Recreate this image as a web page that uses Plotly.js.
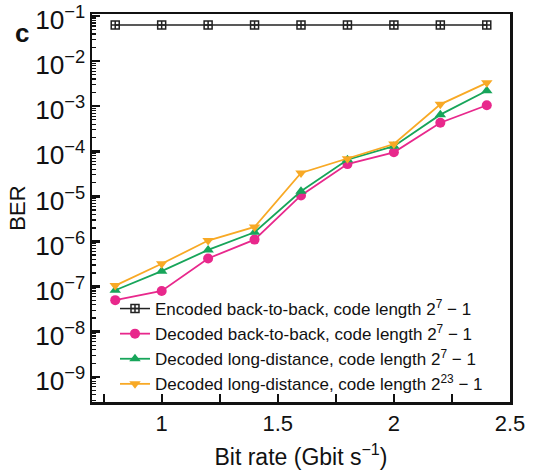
<!DOCTYPE html>
<html>
<head>
<meta charset="utf-8">
<script src="https://cdn.plot.ly/plotly-3.0.1.min.js"></script>
<style>html,body{margin:0;padding:0;background:#fff;}#chart{width:537px;height:475px;}</style>
</head>
<body>
<div id="chart"></div>
<script>
const bitRate = [0.8, 1.0, 1.2, 1.4, 1.6, 1.8, 2.0, 2.2, 2.4];
const encodedB2B = [0.063, 0.063, 0.063, 0.063, 0.063, 0.063, 0.063, 0.063, 0.063];
const decodedB2B = [5e-8, 8e-8, 4.2e-7, 1.1e-6, 1.05e-5, 5.2e-5, 9.5e-5, 4.3e-4, 1.05e-3];
const decodedLong7 = [8.3e-8, 2.2e-7, 6.5e-7, 1.6e-6, 1.3e-5, 6.5e-5, 1.3e-4, 6.5e-4, 2.2e-3];
const decodedLong23 = [1.05e-7, 3.2e-7, 1.05e-6, 2.1e-6, 3.3e-5, 6.8e-5, 1.45e-4, 1.1e-3, 3.3e-3];
const names = [
  "Encoded back-to-back, code length 2<sup>7</sup> \u2212 1",
  "Decoded back-to-back, code length 2<sup>7</sup> \u2212 1",
  "Decoded long-distance, code length 2<sup>7</sup> \u2212 1",
  "Decoded long-distance, code length 2<sup>23</sup> \u2212 1"
];

const traces = [
  {x: bitRate, y: encodedB2B, name: names[0], mode: "lines+markers",
   line: {color: "#222", width: 1.5},
   marker: {symbol: "square-cross-open", size: 8, color: "#222", line: {width: 1.5}}},
  {x: bitRate, y: decodedB2B, name: names[1], mode: "lines+markers",
   line: {color: "#e8288c", width: 1.8},
   marker: {symbol: "circle", size: 10, color: "#e8288c"}},
  {x: bitRate, y: decodedLong7, name: names[2], mode: "lines+markers",
   line: {color: "#17a55a", width: 1.8},
   marker: {symbol: "triangle-up", size: 10, color: "#17a55a"}},
  {x: bitRate, y: decodedLong23, name: names[3], mode: "lines+markers",
   line: {color: "#f8a925", width: 1.8},
   marker: {symbol: "triangle-down", size: 10, color: "#f8a925"}}
];

const fam = "Liberation Sans, Arial, sans-serif";
const ink = "#111";

const layout = {
  width: 537, height: 475,
  margin: {l: 92, r: 27, t: 14, b: 73},
  paper_bgcolor: "#fff", plot_bgcolor: "#fff",
  font: {family: fam, color: ink},
  showlegend: true,
  legend: {x: 0.055, y: 0.0, xanchor: "left", yanchor: "bottom",
           bgcolor: "rgba(0,0,0,0)", font: {size: 17, family: fam, color: ink},
           tracegroupgap: 0},
  xaxis: {
    range: [0.7, 2.5], tick0: 0, dtick: 0.5,
    ticks: "inside", ticklen: 8, tickwidth: 2, tickcolor: ink,
    minor: {ticks: "inside", ticklen: 8, tickwidth: 2, dtick: 0.25, tickcolor: ink, showgrid: false},
    showgrid: false, zeroline: false,
    showline: true, linecolor: ink, linewidth: 2.5, mirror: true,
    ticklabeloverflow: "allow",
    tickfont: {size: 22, family: fam, color: ink},
    title: {text: "Bit rate (Gbit s<sup>\u22121</sup>)", font: {size: 23, family: fam, color: ink}, standoff: 14}
  },
  yaxis: {
    type: "log", range: [-9.56, -0.955], dtick: 1, exponentformat: "power",
    ticks: "inside", ticklen: 8, tickwidth: 2.5, tickcolor: ink,
    minor: {ticks: "inside", ticklen: 4, tickwidth: 1.2, dtick: "D1", tickcolor: ink, showgrid: false},
    showgrid: false, zeroline: false,
    showline: true, linecolor: ink, linewidth: 2.5, mirror: true,
    ticklabeloverflow: "allow", ticklabelshift: 4,
    tickfont: {size: 21, family: fam, color: ink},
    title: {text: "BER", font: {size: 22, family: fam, color: ink}, standoff: 4}
  },
  annotations: [{
    text: "<b>c</b>", xref: "paper", yref: "paper", x: -0.167, y: 0.951,
    xanchor: "center", yanchor: "middle", showarrow: false,
    font: {size: 26, family: fam, color: ink}
  }]
};

Plotly.newPlot("chart", traces, layout, {staticPlot: true, displayModeBar: false});
</script>
</body>
</html>
